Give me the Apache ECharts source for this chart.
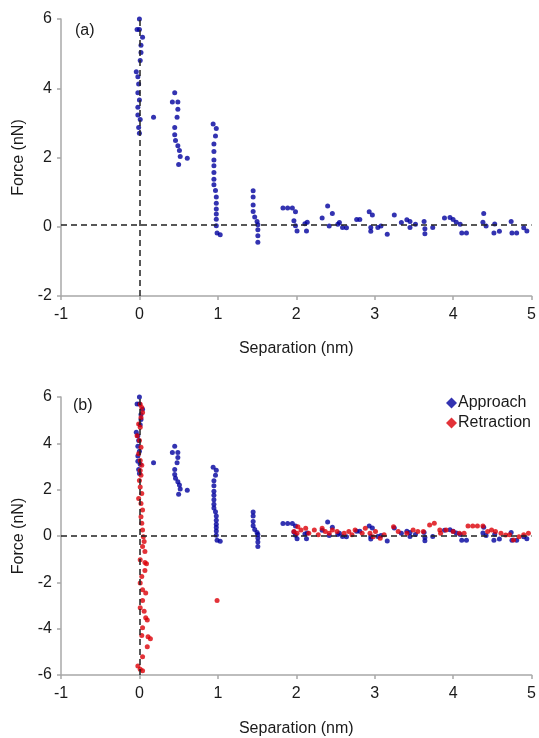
<!DOCTYPE html>
<html>
<head>
<meta charset="utf-8">
<script src="https://cdn.jsdelivr.net/npm/echarts@6/dist/echarts.min.js"></script>
<style>
html,body{margin:0;padding:0;background:#fff;}
#chart{width:539px;height:738px;}
</style>
</head>
<body>
<div id="chart"></div>
<script>
// ---- Data ----
const xTicks = [-1, 0, 1, 2, 3, 4, 5];
const forceTicksA = [-2, 0, 2, 4, 6];
const forceTicksB = [-6, -4, -2, 0, 2, 4, 6];

// Approach curve (same in panel a and b): separation (nm), force (nN)
const approachSep = [
  0.00,-0.03,0.00,0.04,0.02,0.02,0.01,-0.04,-0.02,-0.01,-0.02,0.00,-0.02,-0.02,0.01,-0.01,0.00,
  0.18,
  0.45,0.42,0.49,0.49,0.48,0.45,0.45,0.46,0.49,0.51,0.52,0.50,0.61,
  0.94,0.98,0.97,0.95,0.95,0.95,0.95,0.95,0.95,0.95,0.97,0.98,0.98,0.98,0.98,0.98,0.98,0.99,1.03,
  1.45,1.45,1.45,1.45,1.47,1.50,1.51,1.51,1.51,1.51,
  1.83,1.89,1.95,1.99,1.97,1.99,2.01,2.11,2.14,2.13,2.33,2.40,2.46,2.42,2.53,2.55,2.59,2.64,
  2.77,2.81,2.93,2.97,2.95,2.95,3.04,3.08,3.16,3.25,3.34,3.41,3.45,3.45,3.52,3.63,3.64,3.64,
  3.74,3.89,3.96,4.00,4.04,4.09,4.11,4.17,4.39,4.38,4.42,4.53,4.52,4.59,4.74,4.75,4.81,4.90,4.94
];
const approachForce = [
  6.00,5.70,5.70,5.47,5.24,5.03,4.80,4.48,4.33,4.12,3.87,3.66,3.45,3.23,3.10,2.87,2.70,
  3.16,
  3.87,3.60,3.60,3.39,3.16,2.87,2.66,2.49,2.34,2.20,2.03,1.80,1.98,
  2.97,2.84,2.62,2.39,2.17,1.93,1.76,1.57,1.37,1.21,1.05,0.86,0.68,0.51,0.37,0.22,0.03,-0.18,-0.23,
  1.04,0.86,0.63,0.44,0.28,0.15,0.06,-0.09,-0.26,-0.45,
  0.54,0.54,0.54,0.43,0.17,0.03,-0.12,0.09,0.13,-0.12,0.25,0.60,0.38,0.02,0.07,0.12,-0.02,-0.03,
  0.21,0.21,0.43,0.34,-0.02,-0.13,-0.02,0.02,-0.22,0.34,0.12,0.20,0.15,-0.02,0.07,0.15,-0.06,-0.20,
  -0.02,0.25,0.27,0.21,0.13,0.07,-0.18,-0.18,0.38,0.13,0.02,0.08,-0.18,-0.13,0.15,-0.18,-0.18,-0.03,-0.12
];

// Retraction curve (panel b only)
const retractionSep = [
  0.01,0.03,0.04,0.02,-0.01,0.01,-0.03,0.00,0.02,-0.01,0.01,0.03,0.01,0.02,0.00,0.01,0.03,-0.01,0.02,0.04,
  0.02,0.03,0.04,0.05,0.06,0.04,0.07,
  0.01,0.07,0.09,0.07,0.03,0.01,0.04,0.08,0.04,0.01,0.06,0.08,0.10,0.04,0.03,0.11,0.14,0.10,0.04,-0.02,0.01,0.04,
  0.99,
  1.97,2.02,2.01,2.12,2.16,2.23,2.33,2.37,2.42,2.52,2.61,2.67,2.75,2.88,2.94,2.98,3.07,3.24,3.30,3.41,
  3.49,3.62,3.70,3.76,3.83,3.91,4.00,4.08,4.19,4.25,4.31,4.38,4.44,4.54,4.61,4.67,4.77,4.84,4.96,
  2.06,2.28,2.46,2.71,2.84,3.01,3.12,3.55,3.84,4.14,4.49,4.72,4.90
];
const retractionForce = [
  5.69,5.55,5.33,5.12,4.83,4.69,4.33,4.12,3.83,3.55,3.26,3.05,2.83,2.62,2.40,2.12,1.83,1.62,1.40,1.12,
  0.83,0.55,0.26,-0.03,-0.24,-0.45,-0.67,
  -1.03,-1.14,-1.20,-1.49,-1.75,-2.03,-2.32,-2.46,-2.78,-3.10,-3.25,-3.53,-3.63,-3.96,-4.29,-4.35,-4.43,-4.78,-5.21,-5.61,-5.75,-5.82,
  -2.78,
  0.19,0.40,0.12,0.33,0.12,0.26,0.33,0.19,0.12,0.19,0.12,0.19,0.26,0.33,0.12,-0.03,-0.10,0.40,0.19,0.12,
  0.26,0.19,0.47,0.55,0.26,0.26,0.19,0.12,0.43,0.43,0.43,0.43,0.19,0.19,0.12,0.04,-0.17,-0.03,0.12,
  0.26,0.05,0.26,0.05,0.12,0.19,0.05,0.19,0.12,0.12,0.26,0.05,0.05
];

const zeroLineA = 0.05;
const zeroLineB = 0;

// ---- Build ----
const zip = (xs, ys) => xs.map((x, i) => [x, ys[i]]);
const approachData = zip(approachSep, approachForce);
const retractionData = zip(retractionSep, retractionForce);

const BLUE = '#00009e';
const RED = '#dc0008';
const AX = '#a8a8a8';
const FONT = 'Liberation Sans, Arial, sans-serif';

function xAxisDef(gridIndex, nameGap) {
  return {
    gridIndex, type: 'value', min: xTicks[0], max: xTicks[xTicks.length - 1], interval: 1,
    name: 'Separation (nm)', nameLocation: 'middle', nameGap,
    nameTextStyle: { fontSize: 16, color: '#1a1a1a', fontFamily: FONT },
    axisLine: { show: true, onZero: false, lineStyle: { color: AX, width: 1.5 } },
    axisTick: { show: true, length: 4, lineStyle: { color: AX, width: 1.5 } },
    axisLabel: { fontSize: 16, color: '#1a1a1a', fontFamily: FONT, margin: 11 },
    splitLine: { show: false }
  };
}
function yAxisDef(gridIndex, ticks) {
  return {
    gridIndex, type: 'value', min: ticks[0], max: ticks[ticks.length - 1], interval: 2,
    name: 'Force (nN)', nameLocation: 'middle', nameGap: 33,
    nameTextStyle: { fontSize: 16, color: '#1a1a1a', fontFamily: FONT },
    axisLine: { show: true, onZero: false, lineStyle: { color: AX, width: 1.5 } },
    axisTick: { show: true, length: 4, lineStyle: { color: AX, width: 1.5 } },
    axisLabel: { fontSize: 16, color: '#1a1a1a', fontFamily: FONT, margin: 9 },
    splitLine: { show: false }
  };
}
function dashLines(yVal) {
  return {
    silent: true, symbol: 'none', label: { show: false },
    lineStyle: { color: '#222', type: [6, 4], width: 1.5 },
    data: [{ yAxis: yVal }, { xAxis: 0 }]
  };
}

const chart = echarts.init(document.getElementById('chart'), null, { renderer: 'canvas' });
chart.setOption({
  animation: false,
  backgroundColor: '#fff',
  textStyle: { fontFamily: FONT },
  grid: [
    { left: 61, top: 19, width: 471, height: 277 },
    { left: 61, top: 397, width: 475, height: 278 }
  ],
  xAxis: [xAxisDef(0, 45), xAxisDef(1, 46)],
  yAxis: [yAxisDef(0, forceTicksA), yAxisDef(1, forceTicksB)],
  legend: {
    orient: 'vertical', left: 441, top: 390, itemWidth: 11, itemHeight: 11, itemGap: 4,
    textStyle: { fontSize: 16, color: '#1a1a1a', fontFamily: FONT, padding: [0, 0, 0, -4] },
    data: [{ name: 'Approach', icon: 'diamond' }, { name: 'Retraction', icon: 'diamond' }]
  },
  graphic: [
    { type: 'text', left: 75, top: 23, style: { text: '(a)', fontSize: 16, fill: '#1a1a1a', fontFamily: FONT } },
    { type: 'text', left: 73, top: 398, style: { text: '(b)', fontSize: 16, fill: '#1a1a1a', fontFamily: FONT } }
  ],
  series: [
    {
      name: 'Approach', type: 'scatter', xAxisIndex: 0, yAxisIndex: 0,
      symbol: 'circle', symbolSize: 5, itemStyle: { color: BLUE },
      data: approachData, markLine: dashLines(zeroLineA), z: 3
    },
    {
      name: 'Approach', type: 'scatter', xAxisIndex: 1, yAxisIndex: 1,
      symbol: 'circle', symbolSize: 5, itemStyle: { color: BLUE },
      data: approachData, markLine: dashLines(zeroLineB), z: 3
    },
    {
      name: 'Retraction', type: 'scatter', xAxisIndex: 1, yAxisIndex: 1,
      symbol: 'circle', symbolSize: 5, itemStyle: { color: RED },
      data: retractionData, z: 4
    }
  ]
});
</script>
</body>
</html>
